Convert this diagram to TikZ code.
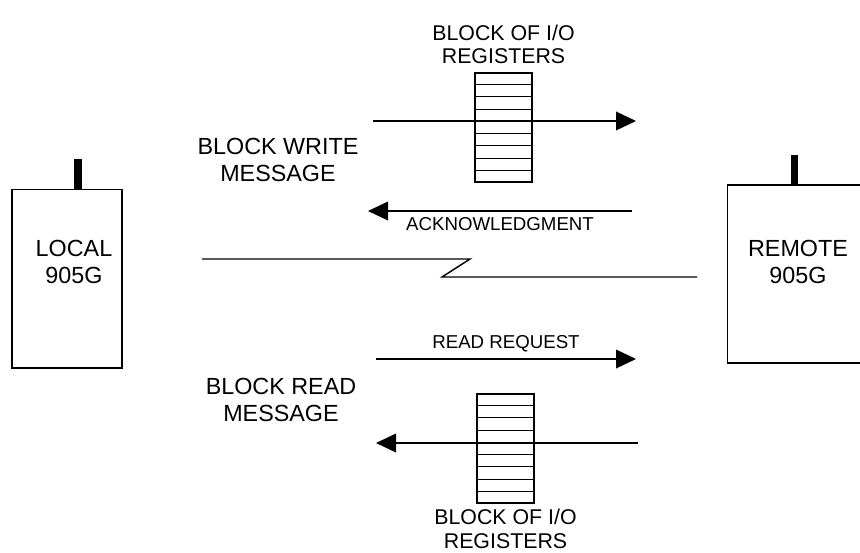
\documentclass[tikz,border=0pt]{standalone}
\usepackage{fontspec}
\setmainfont{Liberation Sans}
\usetikzlibrary{arrows.meta, positioning, calc}

\begin{document}
\begin{tikzpicture}[x=0.75pt, y=-0.75pt,
    station/.style={rectangle, draw=black, line width=1pt, minimum width=82.5pt, minimum height=134pt, inner sep=0pt},
    regblock/.style={rectangle, draw=black, line width=1pt, minimum width=42.75pt, minimum height=81.75pt, inner sep=0pt},
    aerial/.style={rectangle, fill=black, minimum width=5.5pt, minimum height=22.5pt, inner sep=0pt},
    bigtext/.style={align=center, font=\fontsize{17.5}{20.5}\selectfont},
    regtext/.style={align=center, font=\fontsize{16}{17.5}\selectfont, inner sep=1pt},
    smalltext/.style={font=\fontsize{14}{16}\selectfont},
    line/.style={draw, line width=1.1pt, -{Triangle[length=15pt, width=14pt]}}]

    \clip (0,0) rectangle (860,553);

    \node [station] (local) at (67,278.5) {};
    \node [station, minimum width=107pt, minimum height=133.5pt] (remote) at (798.5,274) {};
    \node [aerial] (localant) at (78,174) {};
    \node [aerial] (remoteant) at (794.5,170) {};
    \node [bigtext] (localtxt) at (74,262) {LOCAL\\905G};
    \node [bigtext] (remotetxt) at (798,262) {REMOTE\\905G};

    \node [bigtext] (writemsg) at (278,160) {BLOCK WRITE\\MESSAGE};
    \node [bigtext] (readmsg) at (281,400) {BLOCK READ\\MESSAGE};

    \node [regblock] (topreg) at (503.5,127.5) {};
    \node [regblock] (botreg) at (505.5,448.5) {};
    \foreach \r in {topreg, botreg}
        \foreach \i in {1,...,8}
            \draw [line width=0.9pt] ($(\r.north west)!\i/9!(\r.south west)$) -- ($(\r.north east)!\i/9!(\r.south east)$);
    \node [regtext, above=5pt of topreg] (toplbl) {BLOCK OF I/O\\REGISTERS};
    \node [regtext, below=3pt of botreg] (botlbl) {BLOCK OF I/O\\REGISTERS};

    \coordinate (wr-a) at (373,121);
    \coordinate (wr-b) at (636,121);
    \coordinate (ack-a) at (632,211);
    \coordinate (ack-b) at (368,211);
    \coordinate (rq-a) at (376,359);
    \coordinate (rq-b) at (636,359);
    \coordinate (rd-a) at (638,443);
    \coordinate (rd-b) at (376,443);

    \path [line] (wr-a) -- (wr-b);
    \path [line] (ack-a) -- node[below=1pt, smalltext] {ACKNOWLEDGMENT} (ack-b);
    \path [line] (rq-a) -- node[above=1pt, smalltext] {READ REQUEST} (rq-b);
    \path [line] (rd-a) -- (rd-b);

    \coordinate (lnk-a) at (202,259);
    \coordinate (lnk-b) at (470,259);
    \coordinate (lnk-c) at (442,277);
    \coordinate (lnk-d) at (697,277);
    \draw [line width=1.1pt] (lnk-a) -- (lnk-b) -- (lnk-c) -- (lnk-d);
\end{tikzpicture}
\end{document}
